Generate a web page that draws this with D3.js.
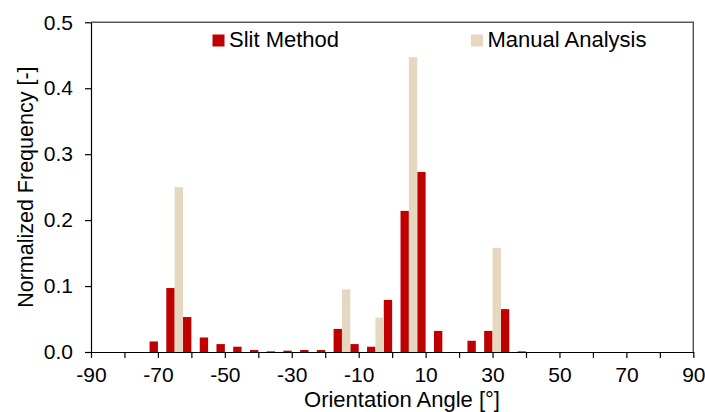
<!DOCTYPE html>
<html>
<head>
<meta charset="utf-8">
<script src="https://cdn.jsdelivr.net/npm/d3@7"></script>
<style>
  html, body { margin: 0; padding: 0; background: #fff; }
  svg { display: block; font-family: "Liberation Sans", Arial, sans-serif; }
</style>
</head>
<body>
<svg id="chart" width="705" height="412"></svg>
<script>
// ---- data ----
const binCenters = [-70, -65, -60, -55, -50, -45, -40, -35, -30, -25, -20, -15, -10, -5, 0, 5, 10, 15, 20, 25, 30, 35, 40];
const slitMethod = [0.016, 0.097, 0.053, 0.022, 0.012, 0.008, 0.003, 0.001, 0.002, 0.003, 0.003, 0.035, 0.012, 0.008, 0.079, 0.214, 0.273, 0.032, 0, 0.017, 0.032, 0.065, 0.001];
const manualAnalysis = [0, 0.25, 0, 0, 0, 0, 0, 0, 0, 0, 0, 0.095, 0, 0.052, 0, 0.447, 0, 0, 0, 0, 0.158, 0, 0];
const seriesNames = ["Slit Method", "Manual Analysis"];
const xTicks = [-90, -80, -70, -60, -50, -40, -30, -20, -10, 0, 10, 20, 30, 40, 50, 60, 70, 80, 90];
const xTickLabels = ["-90", "", "-70", "", "-50", "", "-30", "", "-10", "", "10", "", "30", "", "50", "", "70", "", "90"];
const yTicks = [0, 0.1, 0.2, 0.3, 0.4, 0.5];
const binWidth = 5;

(function () {
// ---- layout ----
const svg = d3.select("#chart");
const pl = 91, pr = 693.3, pt = 22.3, pb = 352;
const colors = ["#C00000", "#E6D8C0"];
const tickFont = 21, titleFont = 22;

const x = d3.scaleLinear().domain([-90, 90]).range([pl, pr]);
const y = d3.scaleLinear().domain([0, 0.5]).range([pb, pt]);

const rows = binCenters.map((c, i) => ({ c, s: slitMethod[i], m: manualAnalysis[i] }));

// plot border (top & right)
svg.append("path")
  .attr("d", `M${pl},${pt}H${pr}V${pb}`)
  .attr("fill", "none").attr("stroke", "#595959").attr("stroke-width", 1.5);

// bars
const g = svg.append("g");
g.selectAll("rect.slit").data(rows.filter(d => d.s > 0)).join("rect")
  .attr("class", "slit")
  .attr("x", d => x(d.c - binWidth / 2))
  .attr("width", d => x(d.c) - x(d.c - binWidth / 2))
  .attr("y", d => y(d.s))
  .attr("height", d => y(0) - y(d.s))
  .attr("fill", colors[0]);
g.selectAll("rect.manual").data(rows.filter(d => d.m > 0)).join("rect")
  .attr("class", "manual")
  .attr("x", d => x(d.c))
  .attr("width", d => x(d.c + binWidth / 2) - x(d.c))
  .attr("y", d => y(d.m))
  .attr("height", d => y(0) - y(d.m))
  .attr("fill", colors[1]);

// axes
const xAxis = d3.axisBottom(x).tickValues(xTicks)
  .tickFormat((d, i) => xTickLabels[i]).tickSize(6).tickSizeOuter(0).tickPadding(9.5);
const gx = svg.append("g").attr("transform", `translate(0,${pb})`).call(xAxis);
gx.select(".domain").attr("stroke", "#000").attr("stroke-width", 1.2);
gx.selectAll(".tick line").attr("stroke", "#000").attr("stroke-width", 1.2);
gx.selectAll(".tick text").attr("font-size", tickFont).attr("fill", "#000")
  .attr("font-family", "Liberation Sans, Arial, sans-serif");

const yAxis = d3.axisLeft(y).tickValues(yTicks).tickFormat(d3.format(".1f"))
  .tickSize(6).tickSizeOuter(0).tickPadding(12);
const gy = svg.append("g").attr("transform", `translate(${pl},0)`).call(yAxis);
gy.select(".domain").attr("stroke", "#000").attr("stroke-width", 1.2);
gy.selectAll(".tick line").attr("stroke", "#000").attr("stroke-width", 1.2);
gy.selectAll(".tick text").attr("font-size", tickFont).attr("fill", "#000")
  .attr("font-family", "Liberation Sans, Arial, sans-serif");

// axis titles
svg.append("text").attr("x", 402).attr("y", 406.5)
  .attr("text-anchor", "middle").attr("font-size", titleFont).attr("fill", "#000")
  .text("Orientation Angle [°]");
svg.append("text")
  .attr("transform", `translate(33,${(pt + pb) / 2}) rotate(-90)`)
  .attr("text-anchor", "middle").attr("font-size", 21.5).attr("fill", "#000")
  .text("Normalized Frequency [-]");

// legend
const legendX = [212.5, 471];
seriesNames.forEach((name, i) => {
  svg.append("rect").attr("x", legendX[i]).attr("y", 34.5).attr("width", 12).attr("height", 12)
    .attr("fill", colors[i]);
  svg.append("text").attr("x", legendX[i] + 16.5).attr("y", 47)
    .attr("font-size", titleFont).attr("fill", "#000").text(name);
});
})();
</script>
</body>
</html>
